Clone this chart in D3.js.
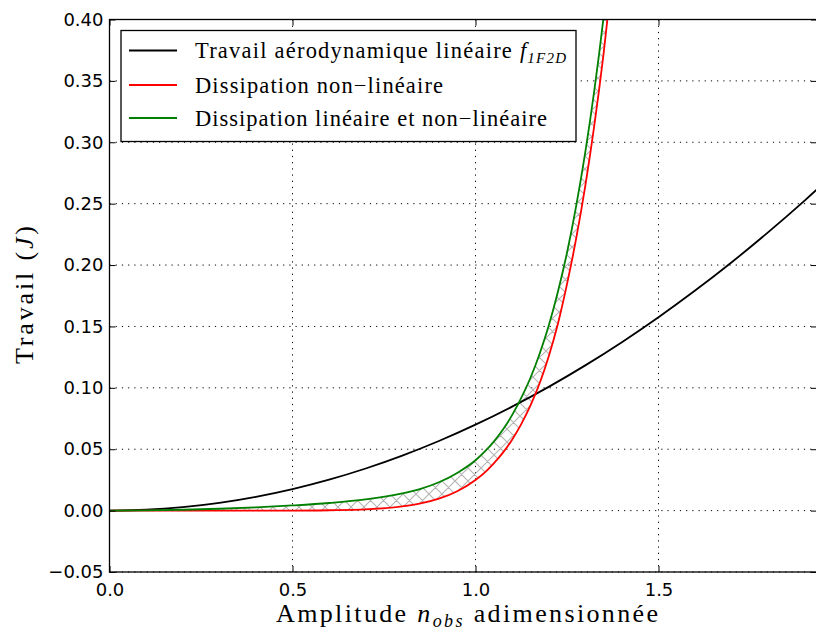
<!DOCTYPE html>
<html lang="en">
<head>
<meta charset="utf-8">
<title>Travail</title>
<script src="https://d3js.org/d3.v7.min.js"></script>
<style>
  body { margin: 0; background: #fff; }
  svg { display: block; }
</style>
</head>
<body>
<script>

// amplitude samples for the dissipation curves
var ampDiss = [0, 0.1, 0.2, 0.3, 0.4, 0.5, 0.6, 0.7, 0.8, 0.85, 0.9, 0.95,
               1.0, 1.025, 1.05, 1.075, 1.1, 1.125, 1.15, 1.175, 1.2, 1.225,
               1.25, 1.275, 1.3, 1.325, 1.35, 1.375, 1.4];
var dissNL = [0, 0, 0, 0, 0, 0.0000, 0.0003, 0.0010, 0.0034, 0.0058, 0.0097, 0.0158,
              0.0250, 0.0310, 0.0385, 0.0472, 0.0578, 0.0705, 0.0855, 0.1035, 0.1255, 0.1520,
              0.1845, 0.2215, 0.2645, 0.3145, 0.3722, 0.4392, 0.5165];
var dissLNL = [0, 0.0002, 0.0007, 0.0015, 0.0026, 0.0042, 0.0062, 0.0091, 0.0140, 0.0177, 0.0231, 0.0307,
               0.0410, 0.0480, 0.0562, 0.0660, 0.0778, 0.0918, 0.1080, 0.1275, 0.1505, 0.1780,
               0.2100, 0.2480, 0.2920, 0.3430, 0.4021, 0.4704, 0.5480];

// aerodynamic work
var ampAero = [0, 0.1, 0.2, 0.3, 0.4, 0.5, 0.6, 0.7, 0.8, 0.9, 1.0,
               1.1, 1.2, 1.3, 1.4, 1.5, 1.6, 1.7, 1.8, 1.9, 2.0];
var travAero = [0, 0.0007, 0.0028, 0.0063, 0.0112, 0.0175, 0.0252, 0.0343, 0.0448, 0.0567, 0.0700,
                0.0847, 0.1008, 0.1183, 0.1372, 0.1575, 0.1792, 0.2023, 0.2268, 0.2527, 0.2800];

var xTicks = [0.0, 0.5, 1.0, 1.5];
var yTicks = [-0.05, 0.00, 0.05, 0.10, 0.15, 0.20, 0.25, 0.30, 0.35, 0.40];

var w = 816, h = 636;
// plot box (note: "top" is a reserved window property, so use m*)
var mLeft = 109.5, mRight = 817, mTop = 19.5, mBottom = 572;

var x = d3.scaleLinear().domain([0, (mRight - mLeft) / 366]).range([mLeft, mRight]);
var y = d3.scaleLinear().domain([-0.05, 0.40]).range([mBottom, mTop]);

var svg = d3.select("body").append("svg")
    .attr("width", w)
    .attr("height", h);

var defs = svg.append("defs");
defs.append("clipPath").attr("id", "plot")
  .append("rect")
    .attr("x", mLeft).attr("y", mTop)
    .attr("width", mRight - mLeft).attr("height", mBottom - mTop);

var hs = 13;
var pat = defs.append("pattern")
    .attr("id", "hatch")
    .attr("patternUnits", "userSpaceOnUse")
    .attr("width", hs).attr("height", hs);
pat.append("path")
    .attr("d", "M0,0L" + hs + "," + hs + "M" + hs + ",0L0," + hs +
               "M-1,1L1,-1M" + (hs - 1) + "," + (hs + 1) + "L" + (hs + 1) + "," + (hs - 1) +
               "M-1," + (hs - 1) + "L1," + (hs + 1) + "M" + (hs - 1) + ",-1L" + (hs + 1) + ",1")
    .attr("stroke", "#b4b4b4")
    .attr("stroke-width", 1.1)
    .attr("fill", "none");

// grid
var grid = svg.append("g");
grid.selectAll("line.gx").data(xTicks).enter().append("line")
    .attr("x1", function (d) { return x(d); })
    .attr("x2", function (d) { return x(d); })
    .attr("y1", mTop).attr("y2", mBottom);
grid.selectAll("line.gy").data(yTicks).enter().append("line")
    .attr("y1", function (d) { return y(d); })
    .attr("y2", function (d) { return y(d); })
    .attr("x1", mLeft).attr("x2", mRight);
grid.selectAll("line")
    .attr("stroke", "#000")
    .attr("stroke-width", 1)
    .attr("stroke-dasharray", "1.2,5");

var plot = svg.append("g").attr("clip-path", "url(#plot)");

var diss = ampDiss.map(function (a, i) { return {a: a, lo: dissNL[i], hi: dissLNL[i]}; });
var aero = ampAero.map(function (a, i) { return {a: a, v: travAero[i]}; });

plot.append("path")
    .datum(diss)
    .attr("fill", "url(#hatch)")
    .attr("d", d3.area()
        .curve(d3.curveMonotoneX)
        .x(function (d) { return x(d.a); })
        .y0(function (d) { return y(d.lo); })
        .y1(function (d) { return y(d.hi); }));

function drawLine(data, key, color) {
    plot.append("path")
        .datum(data)
        .attr("fill", "none")
        .attr("stroke", color)
        .attr("stroke-width", 1.8)
        .attr("d", d3.line()
            .curve(d3.curveMonotoneX)
            .x(function (d) { return x(d.a); })
            .y(function (d) { return y(d[key]); }));
}
drawLine(aero, "v", "#000");
drawLine(diss, "lo", "#ff0000");
drawLine(diss, "hi", "#008000");

// axes
var xAxis = d3.axisBottom(x).tickValues(xTicks).tickSizeInner(-6).tickSizeOuter(0)
    .tickPadding(11).tickFormat(d3.format(".1f"));
var yAxis = d3.axisLeft(y).tickValues(yTicks).tickSizeInner(-6).tickSizeOuter(0)
    .tickPadding(6).tickFormat(function (d) { return d3.format(".2f")(d).replace("-", "\u2212"); });

var gx = svg.append("g").attr("transform", "translate(0," + mBottom + ")").call(xAxis);
var gy = svg.append("g").attr("transform", "translate(" + mLeft + ",0)").call(yAxis);
svg.append("g").attr("transform", "translate(0," + mTop + ")")
    .call(d3.axisTop(x).tickValues(xTicks).tickSizeInner(-6).tickSizeOuter(0).tickFormat(""));
svg.append("g").attr("transform", "translate(" + mRight + ",0)")
    .call(d3.axisRight(y).tickValues(yTicks).tickSizeInner(-6).tickSizeOuter(0).tickFormat(""));

svg.selectAll(".domain").remove();
svg.selectAll(".tick line").attr("stroke", "#000").attr("stroke-width", 1);
[gx, gy].forEach(function (g) {
    g.selectAll(".tick text")
        .attr("font-family", "DejaVu Sans")
        .attr("font-size", 18)
        .attr("fill", "#000");
});

svg.append("rect")
    .attr("x", mLeft).attr("y", mTop)
    .attr("width", mRight - mLeft).attr("height", mBottom - mTop)
    .attr("fill", "none")
    .attr("stroke", "#000")
    .attr("stroke-width", 1.3);

// axis labels
var serif = "Liberation Serif";
var xl = svg.append("text")
    .attr("x", 276).attr("y", 622)
    .attr("font-family", serif).attr("font-size", 26)
    .attr("textLength", 382).attr("lengthAdjust", "spacing");
xl.append("tspan").text("Amplitude ");
xl.append("tspan").attr("font-style", "italic").text("n");
xl.append("tspan").attr("font-style", "italic").attr("font-size", 18).attr("dy", 5).text("obs");
xl.append("tspan").attr("dy", -5).text(" adimensionn\u00e9e");

var yl = svg.append("text")
    .attr("transform", "translate(33,364) rotate(-90)")
    .attr("font-family", serif).attr("font-size", 26)
    .attr("textLength", 138).attr("lengthAdjust", "spacing");
yl.append("tspan").text("Travail (");
yl.append("tspan").attr("font-style", "italic").text("J");
yl.append("tspan").text(")");

// legend
var legendLabels = ["Travail a\u00e9rodynamique lin\u00e9aire ", "Dissipation non\u2212lin\u00e9aire",
                    "Dissipation lin\u00e9aire et non\u2212lin\u00e9aire"];
var legendColors = ["#000", "#ff0000", "#008000"];
var legendWidths = [371, 248, 352];

var lg = svg.append("g");
lg.append("rect")
    .attr("x", 121).attr("y", 30.5)
    .attr("width", 455).attr("height", 111)
    .attr("fill", "#fff")
    .attr("stroke", "#000")
    .attr("stroke-width", 1.3);
var rowY = [50.5, 85, 118];
legendLabels.forEach(function (lab, i) {
    lg.append("line")
        .attr("x1", 129).attr("x2", 177)
        .attr("y1", rowY[i]).attr("y2", rowY[i])
        .attr("stroke", legendColors[i])
        .attr("stroke-width", 1.8);
    var t = lg.append("text")
        .attr("x", 195).attr("y", rowY[i] + 7.5)
        .attr("font-family", serif).attr("font-size", 22.5)
        .attr("textLength", legendWidths[i]).attr("lengthAdjust", "spacing")
        .attr("fill", "#000");
    t.append("tspan").text(lab);
    if (i === 0) {
        t.append("tspan").attr("font-style", "italic").text("f");
        t.append("tspan").attr("font-style", "italic").attr("font-size", 15).attr("dy", 5).text("1F2D");
    }
});

</script>
</body>
</html>
